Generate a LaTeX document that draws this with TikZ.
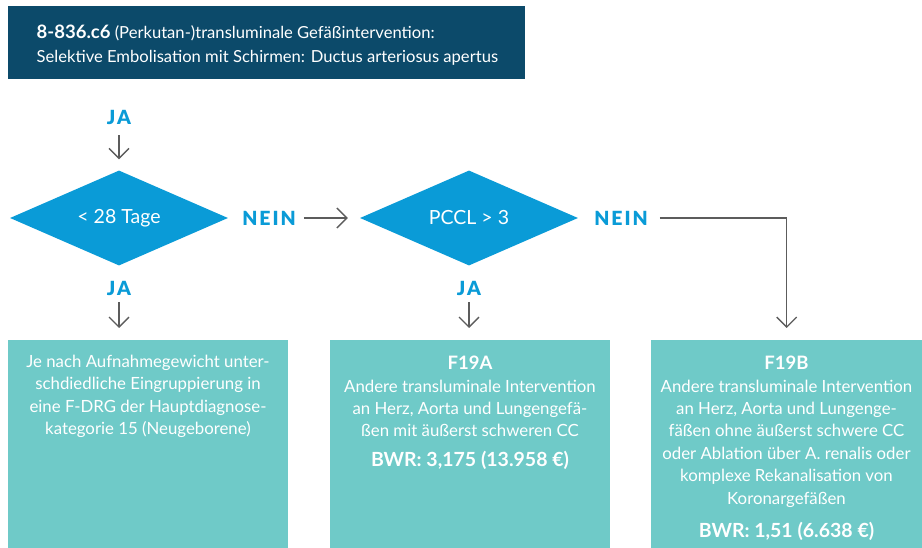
\documentclass[tikz,border=0pt]{standalone}
\usepackage{fontspec}
\setmainfont{Lato}
\newfontfamily\labelfont[LetterSpace=10]{Lato Black}
\usetikzlibrary{shapes.geometric,arrows.meta}

\definecolor{hdrblue}{HTML}{0C4A6A}
\definecolor{decblue}{HTML}{0A9BD7}
\definecolor{boxteal}{HTML}{6FCAC8}
\definecolor{arrgray}{HTML}{5C5C5C}

\tikzset{
  decision/.style={diamond, fill=decblue, draw=none, inner sep=0pt,
    minimum width=218pt, minimum height=95pt, aspect=2.3,
    text=white, font=\fontsize{19.5}{22}\selectfont},
  answer/.style={text=decblue, inner sep=0pt,
    font=\labelfont\fontsize{19.5}{22}\selectfont},
  resultbox/.style={fill=boxteal, draw=none, inner sep=0pt, anchor=north west},
  resulttext/.style={text=white, align=center, inner sep=0pt, anchor=north,
    font=\fontsize{16.8}{22.4}\selectfont},
  arr/.style={draw=arrgray, line width=1.3pt,
    -{Straight Barb[length=10pt,width=20pt,line width=1.3pt]}},
}

\begin{document}
\begin{tikzpicture}[x=1pt,y=-1pt]
\useasboundingbox (0,0) rectangle (922,548);

% title bar
\node[fill=hdrblue, inner sep=0pt, anchor=north west,
  minimum width=517pt, minimum height=73pt] (head) at (8,6) {};
\node[text=white, align=left, anchor=west, inner sep=0pt,
  font=\fontsize{16.6}{24}\selectfont] (headtext) at (36.5,45)
  {{\bfseries\fontsize{18.5}{24}\selectfont 8-836.c6} (Perkutan-)transluminale Gefäßintervention:\\
   Selektive Embolisation mit Schirmen: Ductus arteriosus apertus};

% decisions
\node[decision] (d1) at (119,218) {< 28 Tage};
\node[decision] (d2) at (469,218) {PCCL > 3};

% answer labels
\node[answer] (ja0) at (119,117) {JA};
\node[answer] (ja1) at (119,288) {JA};
\node[answer] (ja2) at (469,288) {JA};
\node[answer] (nein1) at (269,218) {NEIN};
\node[answer] (nein2) at (621,218) {NEIN};

% result boxes
\node[resultbox, minimum width=280pt, minimum height=208pt] (b1) at (8,340) {};
\node[resultbox, minimum width=280pt, minimum height=208pt] (b2) at (330,340) {};
\node[resultbox, minimum width=271pt, minimum height=208pt] (b3) at (651,340) {};

\node[resulttext] (t1) at (148,355)
  {Je nach Aufnahmegewicht unter-\\
   schdiedliche Eingruppierung in\\
   eine F-DRG der Hauptdiagnose-\\
   kategorie 15 (Neugeborene)};
\node[resulttext] (t2) at (470,356)
  {{\bfseries\fontsize{18.5}{22.4}\selectfont F19A}\\
   Andere transluminale Intervention\\
   an Herz, Aorta und Lungengefä-\\
   ßen mit äußerst schweren CC\\[7pt]
   {\bfseries\fontsize{19.5}{22.4}\selectfont BWR: 3,175 (13.958 €)}};
\node[resulttext] (t3) at (786.5,356)
  {{\bfseries\fontsize{18.5}{22.4}\selectfont F19B}\\
   Andere transluminale Intervention\\
   an Herz, Aorta und Lungenge-\\
   fäßen ohne äußerst schwere CC\\
   oder Ablation über A. renalis oder\\
   komplexe Rekanalisation von\\
   Koronargefäßen\\[11pt]
   {\bfseries\fontsize{19.5}{22.4}\selectfont BWR: 1,51 (6.638 €)}};

% connectors
\draw[arr, shorten <=11pt, shorten >=11pt] (ja0.south) -- (d1.north);
\draw[arr, shorten <=7pt, shorten >=12pt] (ja1.south) -- (ja1.south |- b1.north);
\draw[arr, shorten <=7pt, shorten >=12pt] (ja2.south) -- (b2.north -| ja2.south);
\draw[arr, shorten <=8pt, shorten >=12pt] (nein1.east) -- (d2.west);
\draw[arr, shorten <=12pt, shorten >=12pt] (nein2.east) -| (b3.north);
\end{tikzpicture}
\end{document}
